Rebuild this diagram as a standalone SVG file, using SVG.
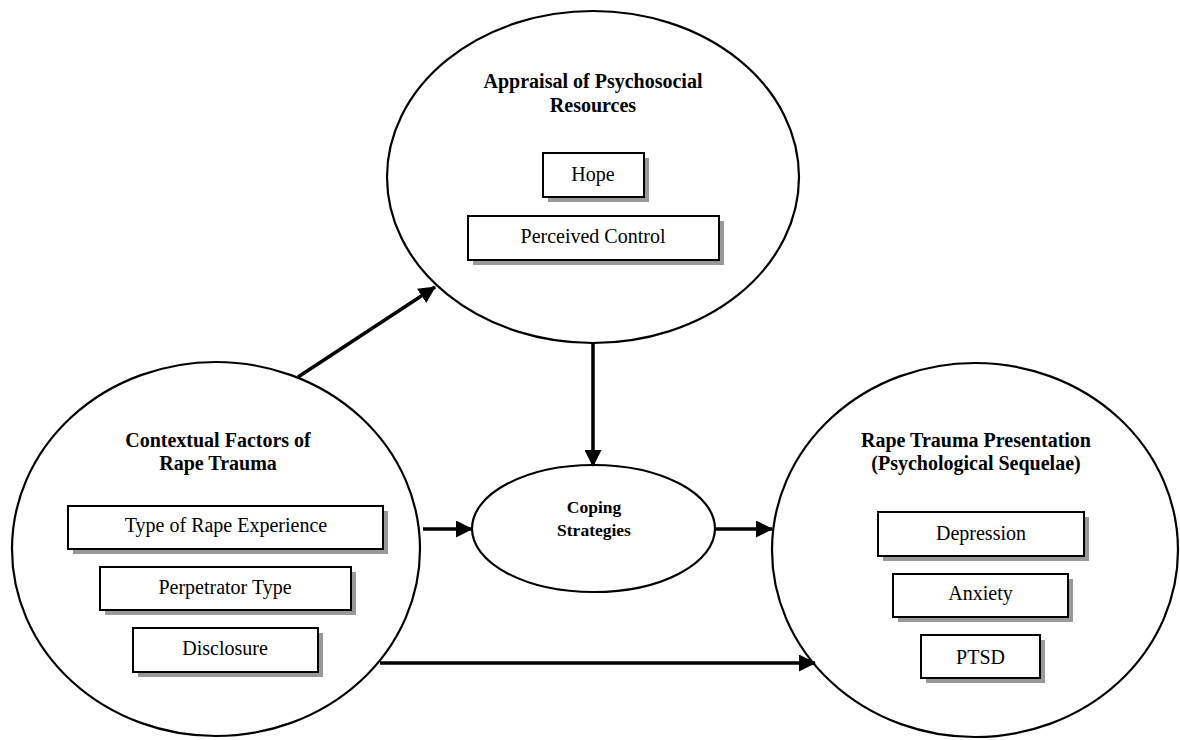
<svg xmlns="http://www.w3.org/2000/svg" width="1180" height="740" viewBox="0 0 1180 740">
<style>
.ell{fill:#fff;stroke:#000;stroke-width:2.2}
.box{fill:#fff;stroke:#000;stroke-width:2}
.sh{fill:#999}
.hd{font-family:"Liberation Serif","Times New Roman",serif;font-weight:bold;font-size:20px;text-anchor:middle;fill:#000}
.lb{font-family:"Liberation Serif","Times New Roman",serif;font-size:20px;text-anchor:middle;fill:#000}
.cp{font-family:"Liberation Serif","Times New Roman",serif;font-weight:bold;font-size:17.5px;text-anchor:middle;fill:#000}
.con{fill:none;stroke:#000;stroke-width:3.5;marker-end:url(#ah)}
</style>
<defs>
<marker id="ah" markerUnits="userSpaceOnUse" markerWidth="17" markerHeight="17" viewBox="0 0 17 17" refX="16" refY="8.5" orient="auto">
<path d="M0,0 L17,8.5 L0,17 Z" fill="#000"/>
</marker>
</defs>
<rect width="1180" height="740" fill="#fff"/>

<g id="appraisal">
<ellipse class="ell" cx="593" cy="177" rx="206" ry="166"/>
<text class="hd" x="593" y="88">Appraisal of Psychosocial</text>
<text class="hd" x="593" y="112">Resources</text>
<g id="hope">
<rect class="sh" x="548" y="158" width="101" height="44"/>
<rect class="box" x="543" y="153" width="101" height="44"/>
<text class="lb" x="593" y="181">Hope</text>
</g>
<g id="perceived-control">
<rect class="sh" x="473" y="221" width="251" height="44"/>
<rect class="box" x="468" y="216" width="251" height="44"/>
<text class="lb" x="593" y="243">Perceived Control</text>
</g>
</g>

<g id="contextual">
<ellipse class="ell" cx="216" cy="549" rx="204" ry="187"/>
<text class="hd" x="218" y="447">Contextual Factors of</text>
<text class="hd" x="218" y="470">Rape Trauma</text>
<g id="type-rape">
<rect class="sh" x="73" y="511" width="315" height="43"/>
<rect class="box" x="68" y="506" width="315" height="43"/>
<text class="lb" x="226" y="532">Type of Rape Experience</text>
</g>
<g id="perpetrator">
<rect class="sh" x="105" y="572" width="251" height="43"/>
<rect class="box" x="100" y="567" width="251" height="43"/>
<text class="lb" x="225" y="594">Perpetrator Type</text>
</g>
<g id="disclosure">
<rect class="sh" x="138" y="633" width="185" height="44"/>
<rect class="box" x="133" y="628" width="185" height="44"/>
<text class="lb" x="225" y="655">Disclosure</text>
</g>
</g>

<g id="coping">
<ellipse class="ell" cx="593.5" cy="528.5" rx="121.5" ry="63.5"/>
<text class="cp" x="594" y="513">Coping</text>
<text class="cp" x="594" y="536">Strategies</text>
</g>

<g id="presentation">
<ellipse class="ell" cx="975" cy="550" rx="203" ry="187"/>
<text class="hd" x="976" y="447">Rape Trauma Presentation</text>
<text class="hd" x="976" y="470">(Psychological Sequelae)</text>
<g id="depression">
<rect class="sh" x="883" y="517" width="206" height="44"/>
<rect class="box" x="878" y="512" width="206" height="44"/>
<text class="lb" x="981" y="540">Depression</text>
</g>
<g id="anxiety">
<rect class="sh" x="898" y="579" width="175" height="43"/>
<rect class="box" x="893" y="574" width="175" height="43"/>
<text class="lb" x="980.5" y="600">Anxiety</text>
</g>
<g id="ptsd">
<rect class="sh" x="926" y="640" width="119" height="43"/>
<rect class="box" x="921" y="635" width="119" height="43"/>
<text class="lb" x="980.5" y="664">PTSD</text>
</g>
</g>

<g id="connectors">
<line class="con" x1="298" y1="377" x2="435" y2="287"/>
<line class="con" x1="593" y1="343" x2="593" y2="466"/>
<line class="con" x1="423" y1="529" x2="472" y2="529"/>
<line class="con" x1="715" y1="529" x2="772" y2="529"/>
<line class="con" x1="380" y1="663" x2="815" y2="663"/>
</g>
</svg>
